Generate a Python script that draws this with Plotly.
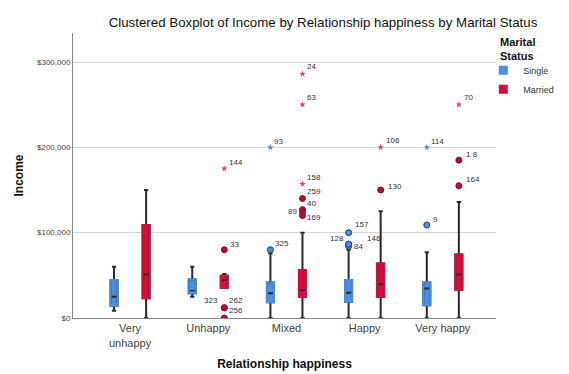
import plotly.graph_objects as go

# ---------------- data ----------------
categories = ["Very<br>unhappy", "Unhappy", "Mixed", "Happy", "Very happy"]
groups = ["Single", "Married"]

single_low = [8500, 25000, 0, 0, 0]
single_q1 = [14500, 29000, 18500, 19000, 15000]
single_med = [25000, 31500, 29000, 29500, 34500]
single_q3 = [44500, 45000, 41500, 44500, 41500]
single_high = [60000, 60000, 76000, 80000, 77000]

married_low = [0, 35500, 0, 0, 0]
married_q1 = [23000, 35500, 25000, 25000, 33000]
married_med = [51000, 44500, 32500, 39500, 51000]
married_q3 = [109000, 49500, 56000, 64000, 74500]
married_high = [150000, 51500, 100000, 125000, 136000]

# outliers (circles)
single_out_cat = [2, 3, 3, 3, 3, 4]
single_out_val = [80000, 100000, 86500, 84000, 86500, 109000]
single_out_lab = ["325", "157", "128", "84", "146", "9"]

married_out_cat = [1, 1, 1, 1, 2, 2, 2, 2, 3, 4, 4]
married_out_val = [80000, 12000, 12000, 0, 140000, 127000, 124500, 120000, 150000, 185000, 155000]
married_out_lab = ["33", "323", "262", "256", "259", "40", "89", "169", "130", "1 8", "164"]

# extremes (stars)
single_ext_cat = [2, 4]
single_ext_val = [200000, 200000]
single_ext_lab = ["93", "114"]

married_ext_cat = [1, 2, 2, 2, 3, 4]
married_ext_val = [175000, 286000, 250000, 157000, 200000, 250000]
married_ext_lab = ["144", "24", "63", "158", "106", "70"]

y_ticks = [0, 100000, 200000, 300000]
y_tick_labels = ["$0", "$100,000", "$200,000", "$300,000"]

# ---------------- style ----------------
BLUE = "#4a8fe0"
RED = "#d40f3c"
BLUE_EDGE = "#1f3f7a"
RED_EDGE = "#8e0b25"
STAR_RED = "#e0406a"
WHISKER = "#2a2a2a"
OFFSET = 0.205
BOX_W = 0.09
FONT = "Liberation Sans, Arial, sans-serif"

# label placement style per label: (xshift, yshift, xanchor)
label_style = {
    "325": (3, 6, "left"), "157": (4, 8, "left"), "128": (-3, 6, "right"),
    "84": (3, 0, "left"), "146": (16, 6, "left"), "9": (4, 5, "left"),
    "33": (4, 5, "left"), "323": (-4, 7, "right"), "262": (3, 7, "left"),
    "256": (3, 8, "left"), "259": (3, 7, "left"), "40": (3, 6, "left"),
    "89": (-3, 0, "right"), "169": (3, -2, "left"), "130": (5, 4, "left"),
    "1 8": (5, 6, "left"), "164": (5, 6, "left"),
    "93": (2, 6, "left"), "114": (2, 6, "left"), "144": (3, 6, "left"),
    "24": (3, 7, "left"), "63": (3, 7, "left"), "158": (3, 7, "left"),
    "106": (3, 7, "left"), "70": (3, 7, "left"),
}

fig = go.Figure()

series = [
    ("Single", -OFFSET, BLUE, BLUE_EDGE, BLUE, BLUE, single_low, single_q1, single_med, single_q3, single_high,
     single_out_cat, single_out_val, single_out_lab, single_ext_cat, single_ext_val, single_ext_lab),
    ("Married", OFFSET, RED, RED_EDGE, "#b80d30", STAR_RED, married_low, married_q1, married_med, married_q3,
     married_high, married_out_cat, married_out_val, married_out_lab, married_ext_cat, married_ext_val,
     married_ext_lab),
]

annotations = []
for (name, off, col, edge, dotcol, starcol, lo, q1, med, q3, hi,
     oc, ov, ol, ec, ev, el) in series:
    xs = [i + off for i in range(len(categories))]
    # layer 1: black whiskers + median, coloured body
    fig.add_trace(go.Box(
        x=xs, q1=q1, median=med, q3=q3, lowerfence=lo, upperfence=hi,
        width=BOX_W, whiskerwidth=0.6, fillcolor=col,
        line=dict(color=WHISKER, width=2), boxpoints=False,
        showlegend=False, hoverinfo="skip"))
    # layer 2: coloured outline covering the black box outline
    fig.add_trace(go.Box(
        x=xs, q1=q1, median=q1, q3=q3, lowerfence=q1, upperfence=q3,
        width=BOX_W, fillcolor="rgba(0,0,0,0)", showwhiskers=False,
        line=dict(color=col, width=2), boxpoints=False,
        showlegend=False, hoverinfo="skip"))
    # outliers
    fig.add_trace(go.Scatter(
        x=[c + off for c in oc], y=ov, mode="markers",
        marker=dict(symbol="circle", size=6, color=dotcol, line=dict(color=edge, width=1)),
        showlegend=False, hoverinfo="skip"))
    # extremes
    fig.add_trace(go.Scatter(
        x=[c + off for c in ec], y=ev, mode="markers",
        marker=dict(symbol="star", size=5, color=starcol, line=dict(width=0)),
        showlegend=False, hoverinfo="skip"))
    for c, v, lab in list(zip(oc, ov, ol)) + list(zip(ec, ev, el)):
        xsft, ysft, anc = label_style[lab]
        annotations.append(dict(
            x=c + off, y=v, text=lab, showarrow=False, xref="x", yref="y",
            xshift=xsft, yshift=ysft, xanchor=anc, yanchor="middle",
            font=dict(family=FONT, size=8, color="#333333")))

# legend title as text
annotations.append(dict(
    x=1.005, y=0.997, xref="paper", yref="paper", xanchor="left", yanchor="top",
    text="<b>Marital<br>Status</b>", showarrow=False, align="left",
    font=dict(family=FONT, size=11, color="#111")))

# legend entries
for name, col in zip(groups, [BLUE, RED]):
    fig.add_trace(go.Scatter(
        x=[None], y=[None], mode="markers", name=name,
        marker=dict(symbol="square", size=9, color=col)))

# the page body adds an 8px margin, so the figure is sized to fit the window
fig.update_layout(
    width=561, height=366,
    margin=dict(l=65, r=73, t=25, b=56, autoexpand=False),
    paper_bgcolor="white", plot_bgcolor="white",
    font=dict(family=FONT, color="#222"),
    title=dict(text="Clustered Boxplot of Income by Relationship happiness by Marital Status",
               x=0.5615, xanchor="center", y=1 - 14 / 366, yanchor="middle",
               yref="container", xref="container",
               font=dict(family=FONT, size=13.3, color="#111")),
    legend=dict(x=0.97, xanchor="left", y=0.92, yanchor="top",
                font=dict(size=9, color="#333"), itemwidth=30,
                tracegroupgap=0, bgcolor="rgba(0,0,0,0)"),
    annotations=annotations,
    showlegend=True,
)

fig.update_xaxes(
    range=[-0.73, 4.68], tickvals=list(range(len(categories))), ticktext=categories,
    showgrid=False, zeroline=False, showline=True, linecolor="#888", linewidth=1,
    ticks="", tickfont=dict(family=FONT, size=11, color="#444"), automargin=False,
    title=dict(text="<b>Relationship happiness</b>", font=dict(size=12, color="#111"), standoff=12))

fig.update_yaxes(
    range=[0, 334000], tickvals=y_ticks, ticktext=y_tick_labels,
    showgrid=True, gridcolor="#d4d4d4", gridwidth=1, zeroline=False,
    showline=True, linecolor="#888", linewidth=1, ticks="", automargin=False,
    tickfont=dict(family=FONT, size=8, color="#444"),
    title=dict(text="<b>Income</b>", font=dict(size=12, color="#111"), standoff=10))

fig.write_html("out.html")
